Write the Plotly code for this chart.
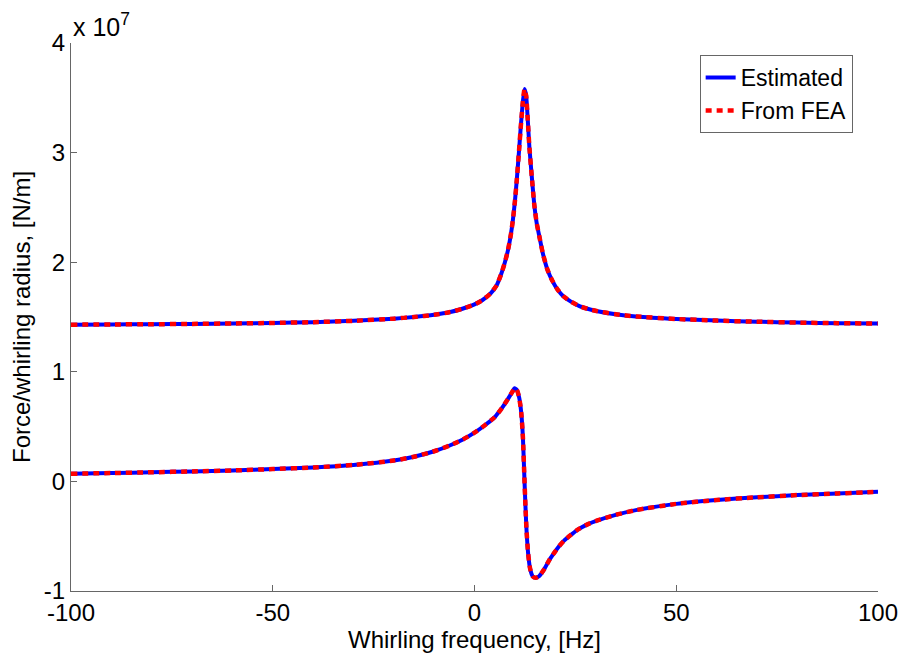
import plotly.graph_objects as go

# Whirling force / radius, in units of 1e7 N/m
freq_re = [-100, -90, -80, -70, -60, -50, -40, -30, -20, -15, -10, -6, -3, 0, 2, 4,
           5.5, 6.6, 7.5, 8.3, 9.0, 9.5, 10.0, 10.5, 11.0, 11.5, 12.0, 12.4, 12.8,
           13.2, 13.6, 14.2, 14.8, 15.4, 16.1, 17.0, 18.1, 19.3, 20.6, 22.0, 23.9,
           26.0, 28.0, 30.5, 35, 40, 50, 60, 70, 80, 90, 100]
real_part = [1.430, 1.432, 1.434, 1.437, 1.441, 1.446, 1.453, 1.465, 1.485, 1.500,
             1.520, 1.545, 1.575, 1.615, 1.655, 1.715, 1.790, 1.890, 1.995, 2.110,
             2.250, 2.380, 2.550, 2.760, 3.000, 3.250, 3.470, 3.580, 3.520, 3.300,
             3.050, 2.780, 2.530, 2.360, 2.230, 2.070, 1.930, 1.830, 1.750, 1.690,
             1.640, 1.600, 1.575, 1.553, 1.525, 1.505, 1.482, 1.467, 1.457, 1.449,
             1.444, 1.440]

freq_im = [-100, -90, -80, -70, -60, -50, -40, -30, -20, -15, -10, -6, -3, 0, 2.5,
           5.0, 6.0, 7.0, 8.0, 9.0, 9.5, 9.9, 10.5, 11.1, 11.6, 12.0, 12.3, 12.6,
           12.9, 13.3, 13.8, 14.4, 15.2, 16.0, 17.3, 18.5, 19.8, 21.0, 22.2, 24.0,
           25.5, 28.0, 30, 35, 40, 50, 60, 70, 80, 90, 100]
imag_part = [0.070, 0.076, 0.083, 0.091, 0.100, 0.112, 0.127, 0.150, 0.190, 0.225,
             0.275, 0.330, 0.380, 0.445, 0.510, 0.585, 0.630, 0.680, 0.735, 0.795,
             0.825, 0.850, 0.835, 0.760, 0.620, 0.400, 0.100, -0.200, -0.450,
             -0.660, -0.800, -0.865, -0.880, -0.865, -0.800, -0.720, -0.650, -0.590,
             -0.540, -0.485, -0.442, -0.392, -0.362, -0.305, -0.262, -0.205, -0.170,
             -0.145, -0.125, -0.110, -0.095]

x_ticks = [-100, -50, 0, 50, 100]
x_tick_text = ["-100", "-50", "0", "50", "100"]
y_ticks = [-1, 0, 1, 2, 3, 4]
y_tick_text = ["-1", "0", "1", "2", "3", "4"]

FONT = "Liberation Sans, Arial, sans-serif"
BLUE = "rgb(0,0,255)"
RED = "rgb(255,0,0)"

fig = go.Figure()
for i, (fx, fy) in enumerate([(freq_re, real_part), (freq_im, imag_part)]):
    fig.add_trace(go.Scatter(x=fx, y=fy, mode="lines", name="Estimated",
                             legendgroup="est", showlegend=(i == 0),
                             line=dict(color=BLUE, width=4, shape="spline",
                                       smoothing=0.5)))
for i, (fx, fy) in enumerate([(freq_re, real_part), (freq_im, imag_part)]):
    fig.add_trace(go.Scatter(x=fx, y=fy, mode="lines", name="From FEA",
                             legendgroup="fea", showlegend=(i == 0),
                             line=dict(color=RED, width=4.5, dash="6px,5px",
                                       shape="spline", smoothing=0.5)))

axis_common = dict(showgrid=False, zeroline=False, showline=True,
                   linecolor="#666666", linewidth=1, ticks="inside",
                   ticklen=6, tickcolor="#666666", mirror=False,
                   tickfont=dict(family=FONT, size=24, color="black"))

fig.update_xaxes(range=[-100, 100], tickvals=x_ticks, ticktext=x_tick_text,
                 title=dict(text="Whirling frequency, [Hz]", standoff=4,
                            font=dict(family=FONT, size=24, color="black")),
                 **axis_common)
fig.update_yaxes(range=[-1, 4], tickvals=y_ticks, ticktext=y_tick_text,
                 title=dict(text="Force/whirling radius, [N/m]", standoff=6,
                            font=dict(family=FONT, size=24, color="black")),
                 **axis_common)

fig.add_annotation(xref="paper", yref="paper", x=0, y=1, xanchor="left",
                   yanchor="bottom", showarrow=False, yshift=0,
                   text="x 10<sup>7</sup>",
                   font=dict(family=FONT, size=25, color="black"))

fig.update_layout(
    width=910, height=659,
    margin=dict(l=71, r=28, t=43, b=67),
    plot_bgcolor="white", paper_bgcolor="white",
    showlegend=True,
    legend=dict(x=0.779, y=0.978, xanchor="left", yanchor="top",
                bgcolor="white", bordercolor="#666666", borderwidth=1,
                font=dict(family=FONT, size=23, color="black"),
                tracegroupgap=0, itemwidth=30),
)

fig.write_html("out.html")
